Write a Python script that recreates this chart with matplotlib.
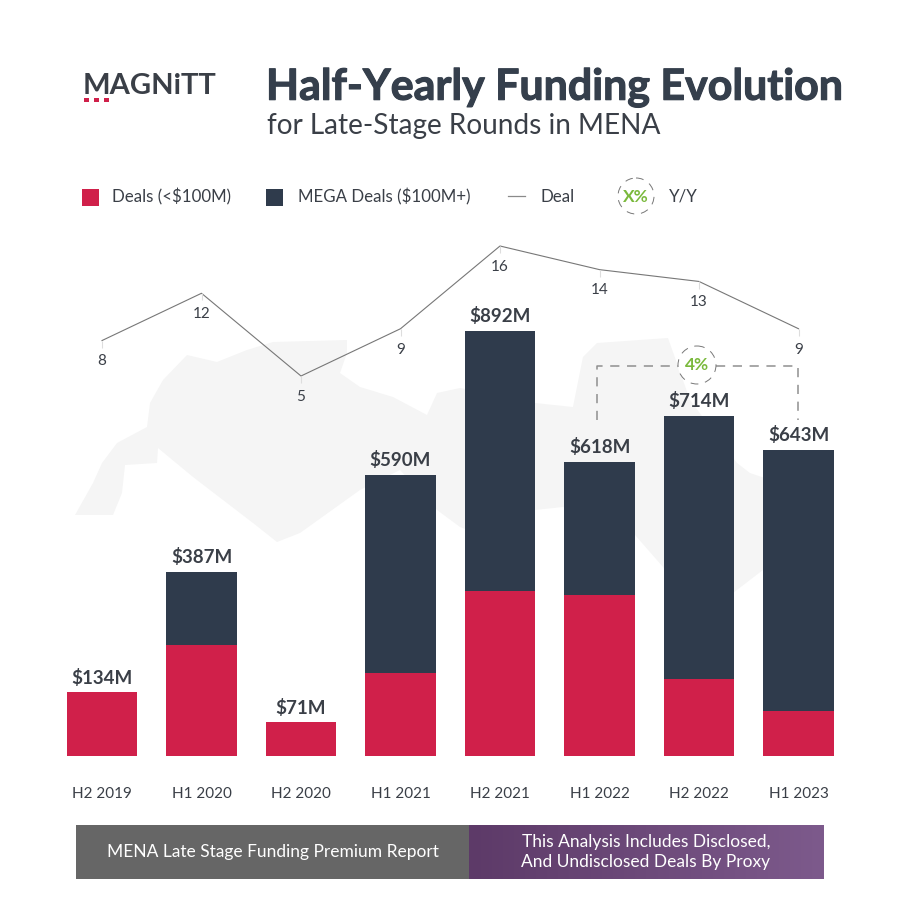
# Half-yearly late-stage funding chart, rebuilt with matplotlib
import numpy as np
import matplotlib
matplotlib.use("Agg")
import matplotlib.pyplot as plt
import matplotlib.patheffects as pe
from matplotlib.patches import Polygon, Rectangle, Circle

# Chart values
periods = ["H2 2019", "H1 2020", "H2 2020", "H1 2021", "H2 2021", "H1 2022", "H2 2022", "H1 2023"]
deals = [134, 233, 71, 174, 346, 338, 162, 94]
mega_deals = [0, 154, 0, 416, 546, 280, 552, 549]
totals = [134, 387, 71, 590, 892, 618, 714, 643]
deal_counts = [8, 12, 5, 9, 16, 14, 13, 9]

NAVY = "#2f3b4c"
RED = "#d0204a"
TEXT = "#3a3f47"
TITLE = "#353f4c"
GREEN = "#7ab93c"

plt.rcParams["font.family"] = ["Lato", "DejaVu Sans"]

fig = plt.figure(figsize=(9, 9), dpi=100)

# Overlay in pixel coordinates for the header, legend, map and footer
deco = fig.add_axes([0, 0, 1, 1])
deco.axis("off")

# Pale map behind the bars
map_outline = [(75, 515), (93, 483), (102, 463), (117, 443), (147, 427), (150, 403), (163, 380),
               (187, 355), (217, 362), (247, 350), (273, 342), (347, 340), (347, 353), (340, 373),
               (360, 387), (393, 397), (427, 415), (437, 393), (460, 388), (535, 403), (573, 407),
               (583, 357), (597, 343), (668, 338), (690, 400), (737, 463), (750, 473), (800, 490),
               (800, 555), (763, 570), (733, 593), (690, 610), (663, 567), (635, 535), (563, 507),
               (535, 510), (495, 540), (460, 527), (437, 510), (400, 470), (360, 490), (300, 533),
               (277, 542), (253, 523), (193, 477), (158, 448), (157, 463), (125, 465), (122, 493),
               (113, 515)]
deco.add_patch(Polygon(map_outline, closed=True, fc="#f5f5f5", ec="none", zorder=0))

# Logo
deco.text(83, 86, "MAGNiTT", fontsize=21, fontweight="bold", color=TEXT, va="center", ha="left")
for x_foot in (84, 94, 104):
    deco.add_patch(Rectangle((x_foot, 98), 5, 4, fc=RED, ec="none", zorder=3))

# Title, thickened a little because the original face is heavier than Lato Bold
title = deco.text(266, 87, "Half-Yearly Funding Evolution", fontsize=30.9, fontweight="bold", color=TITLE, va="center")
title.set_path_effects([pe.withStroke(linewidth=0.8, foreground=TITLE)])
deco.text(267, 126, "for Late-Stage Rounds in MENA", fontsize=20.2, color=TEXT, va="center")

# Legend
deco.add_patch(Rectangle((82, 189), 17, 17, fc=RED, ec="none"))
deco.text(112, 197, "Deals (<$100M)", fontsize=12.2, color=TEXT, va="center")
deco.add_patch(Rectangle((266, 189), 17, 17, fc=NAVY, ec="none"))
deco.text(298, 197, "MEGA Deals ($100M+)", fontsize=12.2, color=TEXT, va="center")
deco.plot([508, 525], [196, 196], color="#8a8a8a", lw=0.9)
deco.text(541, 197, "Deal", fontsize=12.2, color=TEXT, va="center")
deco.add_patch(Circle((636, 196), 18, fc="none", ec="#777777", lw=0.7, ls=(0, (8, 7))))
deco.text(636, 197, "X%", fontsize=12.5, fontweight="bold", color=GREEN, va="center", ha="center")
deco.text(669, 197, "Y/Y", fontsize=12.2, color=TEXT, va="center")

# Footer band, grey on the left and purple gradient on the right
deco.add_patch(Rectangle((76, 825), 393, 54, fc="#666666", ec="none"))
gradient = np.linspace(0, 1, 256).reshape(1, -1)
purple = matplotlib.colors.LinearSegmentedColormap.from_list("footer", ["#5d3a68", "#7d5a8c"])
deco.imshow(gradient, extent=(469, 824, 879, 825), cmap=purple, aspect="auto", zorder=1)
deco.set_xlim(0, 900)
deco.set_ylim(900, 0)
deco.text(273, 852, "MENA Late Stage Funding Premium Report", fontsize=12.5, color="white", va="center", ha="center", zorder=2)
deco.text(646, 842, "This Analysis Includes Disclosed,", fontsize=12.5, color="white", va="center", ha="center", zorder=2)
deco.text(646, 862, "And Undisclosed Deals By Proxy", fontsize=12.5, color="white", va="center", ha="center", zorder=2)

# Y/Y bracket between H1 2022 and H1 2023
deco.plot([597, 597, 679], [420, 366, 366], color="#8f8f8f", lw=1.1, ls=(0, (6, 5)), zorder=2)
deco.plot([716, 798, 798], [366, 366, 420], color="#8f8f8f", lw=1.1, ls=(0, (6, 5)), zorder=2)
deco.add_patch(Circle((697, 365), 19, fc="white", ec="#777777", lw=0.7, ls=(0, (8, 7)), zorder=3))
deco.text(697, 365, "4%", fontsize=12.5, fontweight="bold", color=GREEN, va="center", ha="center", zorder=4)

# Bars: baseline at y=756px, one M$ is 0.4765px, categories 99.6px apart from x=102px
ax = fig.add_axes([0, 0, 1, 1], facecolor="none")
ax.set_xlim(-102 / 99.5, (900 - 102) / 99.5)
ax.set_ylim(-(900 - 756) / 0.4765, 756 / 0.4765)
ax.axis("off")
x = np.arange(len(periods))
ax.bar(x, deals, width=0.705, color=RED)
ax.bar(x, mega_deals, width=0.705, bottom=deals, color=NAVY)
for i, total in enumerate(totals):
    ax.annotate(f"${total}M", (i, total), xytext=(0, 4), textcoords="offset points", ha="center", va="bottom",
                fontsize=13.5, fontweight="bold", color=TEXT)
    ax.annotate(periods[i], (i, 0), xytext=(0, -27), textcoords="offset points", ha="center", va="center",
                fontsize=11, color=TEXT)

# Deal count line: 16 deals at y=246px, 5 deals at y=376px
line_ax = fig.add_axes([0, 0, 1, 1], facecolor="none", sharex=ax)
px_per_deal = (376 - 246) / 11
line_ax.set_ylim(16 - (900 - 246) / px_per_deal, 16 + 246 / px_per_deal)
line_ax.axis("off")
line_ax.plot(x, deal_counts, color="#777777", lw=0.8)
line_ax.vlines(x, np.array(deal_counts) - 0.6, deal_counts, color="#dddddd", lw=0.8)
for i, count in enumerate(deal_counts):
    line_ax.annotate(str(count), (i, count), xytext=(0, -15), textcoords="offset points", ha="center", va="center",
                     fontsize=11, color=TEXT)

fig.savefig("out.png", dpi=100)
